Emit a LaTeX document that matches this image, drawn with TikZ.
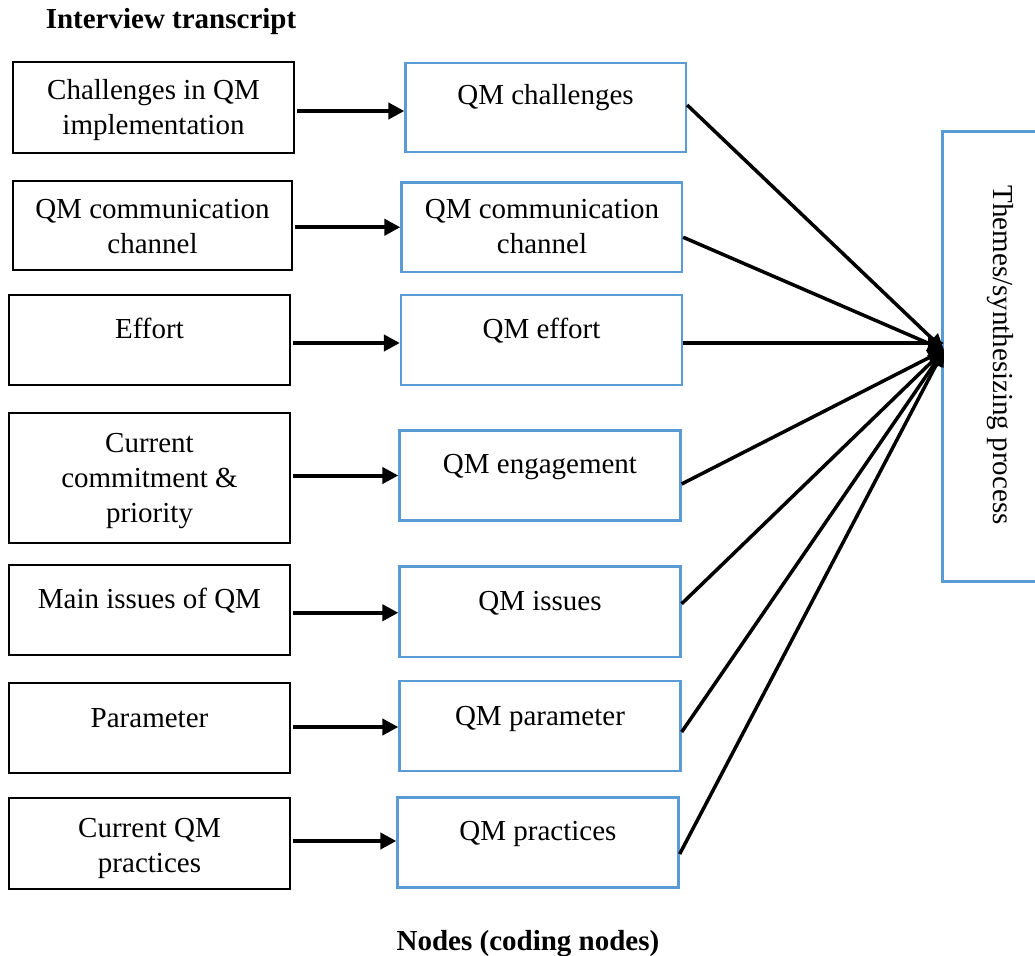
\documentclass[tikz,border=0pt]{standalone}
\usepackage{fontspec}
\setmainfont{Liberation Serif}
\usetikzlibrary{arrows.meta,fit,calc}

\definecolor{boxblue}{HTML}{5B9BD5}

\begin{document}
\begin{tikzpicture}[x=1pt,y=-1pt,
  srcbox/.style={draw=black, line width=2.5pt, inner sep=0pt, rectangle},
  codebox/.style={draw=boxblue, line width=2.3pt, inner sep=0pt, rectangle},
  boxtext/.style={font=\fontsize{29}{35}\selectfont, text width=280pt, align=flush center, anchor=base, inner sep=0pt},
  heading/.style={font=\fontsize{29}{35}\selectfont\bfseries, anchor=base, inner sep=0pt},
  feed/.style={line width=4pt, -{Triangle[length=16pt,width=16pt]}, shorten <=2pt},
  merge/.style={line width=3.5pt, -{Triangle[length=16pt,width=15pt]}},
]
\clip (0,0) rectangle (1035,955);

% headings
\node[heading] (h1) at (171,29) {Interview transcript};
\node[heading] (h2) at (528,950) {Nodes (coding nodes)};

% interview transcript boxes
\node[srcbox, fit={(13,62) (294,153)}] (L1) {};
\node[srcbox, fit={(13,181) (292,270)}] (L2) {};
\node[srcbox, fit={(9,295) (290,385)}] (L3) {};
\node[srcbox, fit={(9,413) (290,543)}] (L4) {};
\node[srcbox, fit={(9,565) (290,655)}] (L5) {};
\node[srcbox, fit={(9,683) (290,773)}] (L6) {};
\node[srcbox, fit={(9,798) (290,889)}] (L7) {};

\node[boxtext] (lt1) at (153.5,100) {Challenges in QM\\implementation};
\node[boxtext] (lt2) at (152.5,218) {QM communication\\channel};
\node[boxtext] (lt3) at (149.5,338) {Effort};
\node[boxtext] (lt4) at (149.5,452) {Current\\commitment \&\\priority};
\node[boxtext] (lt5) at (149.5,608) {Main issues of QM};
\node[boxtext] (lt6) at (149.5,727) {Parameter};
\node[boxtext] (lt7) at (149.5,837) {Current QM\\practices};

% coding node boxes
\node[codebox, fit={(405.5,63) (686,152)}] (M1) {};
\node[codebox, fit={(401.5,182.5) (682,272)}] (M2) {};
\node[codebox, fit={(401,295) (682,385)}] (M3) {};
\node[codebox, fit={(399.5,430.5) (680.5,520.5)}] (M4) {};
\node[codebox, fit={(399.5,566.5) (680.5,657)}] (M5) {};
\node[codebox, fit={(399.5,681) (680.5,771)}] (M6) {};
\node[codebox, fit={(397.5,797.5) (678.5,887.5)}] (M7) {};

\node[boxtext] (mt1) at (545.5,105) {QM challenges};
\node[boxtext] (mt2) at (542,218) {QM communication\\channel};
\node[boxtext] (mt3) at (541.5,338) {QM effort};
\node[boxtext] (mt4) at (540,473) {QM engagement};
\node[boxtext] (mt5) at (540,610) {QM issues};
\node[boxtext] (mt6) at (540,725) {QM parameter};
\node[boxtext] (mt7) at (538,840) {QM practices};

% themes box
\node[codebox, fit={(942.5,131.5) (1080,581.5)}] (R) {};
\node[font=\fontsize{29}{35}\selectfont, rotate=-90, anchor=base, inner sep=0pt] (rt) at (993,355) {Themes/synthesizing process};

% transcript -> coding nodes (vertical offset of each arrow from the box centre)
\foreach \i/\dy in {1/-3.5, 2/0, 3/-3, 4/0, 5/-1, 6/-1, 7/1.5}{
  \draw[feed] ([yshift=\dy pt]M\i.west -| L\i.east) -- ([yshift=\dy pt]M\i.west);
}

% coding nodes -> themes
\coordinate (hub) at (944,350);
\draw[merge] ([yshift=2.5pt]M1.east) -- (hub);
\draw[merge] ([yshift=-10pt]M2.east) -- (hub);
\draw[merge] ([yshift=-3pt]M3.east) coordinate (m3out) -- (m3out -| hub);
\draw[merge] ([yshift=-8.5pt]M4.east) -- (hub);
\draw[merge] ([yshift=8pt]M5.east) -- (hub);
\draw[merge] ([yshift=-6pt]M6.east) -- (hub);
\draw[merge] ([yshift=-11.5pt]M7.east) -- (hub);
\end{tikzpicture}
\end{document}
